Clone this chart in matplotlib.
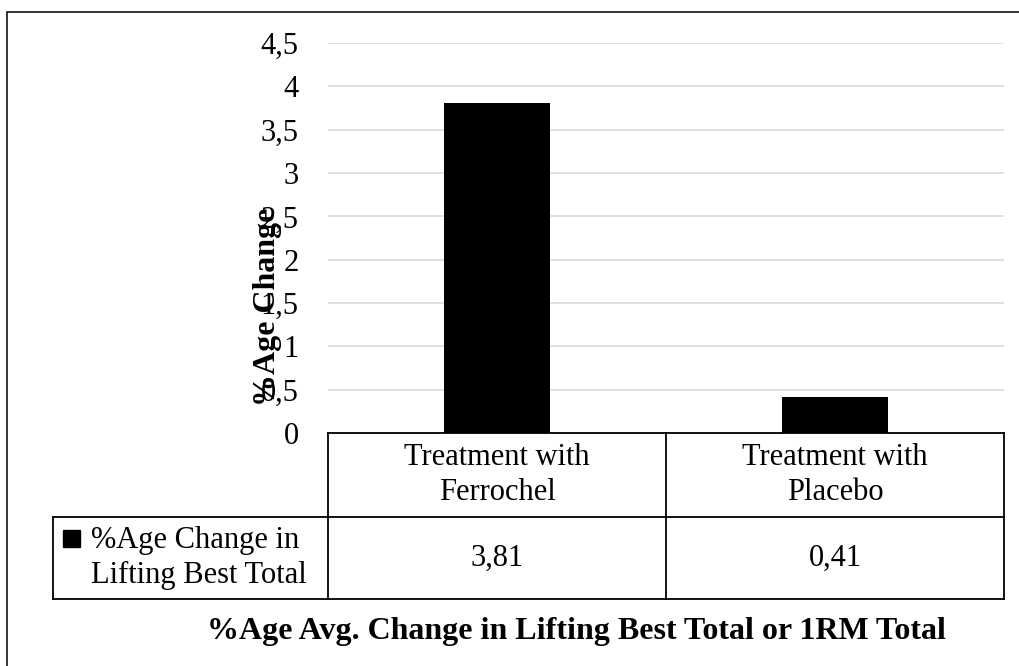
import matplotlib
matplotlib.use("Agg")
import matplotlib.pyplot as plt
from matplotlib.patches import Rectangle
import matplotlib.transforms as mtransforms

categories = ["Treatment with\nFerrochel", "Treatment with\nPlacebo"]
values = [3.81, 0.41]
value_labels = ["3,81", "0,41"]
series_name = "%Age Change in\nLifting Best Total"
yticks = [0, 0.5, 1, 1.5, 2, 2.5, 3, 3.5, 4, 4.5]
ytick_labels = ["0", "0,5", "1", "1,5", "2", "2,5", "3", "3,5", "4", "4,5"]

plt.rcParams['font.family'] = ['Liberation Serif', 'DejaVu Serif']

W, H = 1019, 666
fig = plt.figure(figsize=(W / 100, H / 100), dpi=100)

# plot area in pixel terms: left 328, right 1004, top 43, bottom 433
ax = fig.add_axes([328 / W, (H - 433) / H, 676 / W, 390 / H])
x = list(range(len(categories)))
ax.bar(x, values, width=0.314, color="black", zorder=3)
ax.set_xlim(-0.5, len(categories) - 0.5)
ax.set_ylim(0, 4.5)
ax.set_yticks(yticks)
ax.set_yticklabels(ytick_labels, fontsize=22)
ax.tick_params(axis='y', length=0, pad=21)
ax.set_xticks([])
ax.grid(axis='y', color='#d9d9d9', linewidth=1.2, zorder=0)
for s in ax.spines.values():
    s.set_visible(False)

# data table under the axes (x in data, y in axes coords)
tr = mtransforms.blended_transform_factory(ax.transData, ax.transAxes)
row1 = -84 / 390
row2 = -166 / 390
left_edge = -1.3145
right_edge = len(categories) - 0.5
lw = 1.3
kw = dict(transform=tr, color='black', linewidth=lw, clip_on=False)
ax.plot([-0.5, right_edge], [0, 0], **kw)
ax.plot([left_edge, right_edge], [row1, row1], **kw)
ax.plot([left_edge, right_edge], [row2, row2], **kw)
ax.plot([left_edge, left_edge], [row1, row2], **kw)
for xv in [i - 0.5 for i in range(len(categories) + 1)]:
    ax.plot([xv, xv], [0, row2], **kw)

for i, (c, v) in enumerate(zip(categories, value_labels)):
    ax.text(i, row1 / 2, c, transform=tr, ha='center', va='center',
            fontsize=22, linespacing=1.25, clip_on=False)
    ax.text(i, (row1 + row2) / 2, v, transform=tr, ha='center', va='center',
            fontsize=22, clip_on=False)

# legend key + series name in the row header
fig.patches.append(Rectangle((63 / W, (H - 547) / H), 17 / W, 17 / H,
                             transform=fig.transFigure, color='black'))
fig.text(91 / W, (H - 558) / H, series_name, ha='left', va='center',
         fontsize=22, linespacing=1.25)

# axis titles (the y title sits over the tick labels, as in the original)
fig.text(268 / W, (H - 307) / H, "%Age Change", rotation=90, ha='center',
         va='center', fontsize=23, fontweight='bold')
fig.text(576 / W, (H - 632) / H, "%Age Avg. Change in Lifting Best Total or 1RM Total",
         ha='center', va='center', fontsize=23, fontweight='bold')

# outer chart border (runs off right and bottom)
fig.patches.append(Rectangle((7 / W, -0.2), 1.2, (H - 12) / H + 0.2,
                             transform=fig.transFigure, fill=False,
                             edgecolor='black', linewidth=1.1))

fig.savefig("out.png", dpi=100)
